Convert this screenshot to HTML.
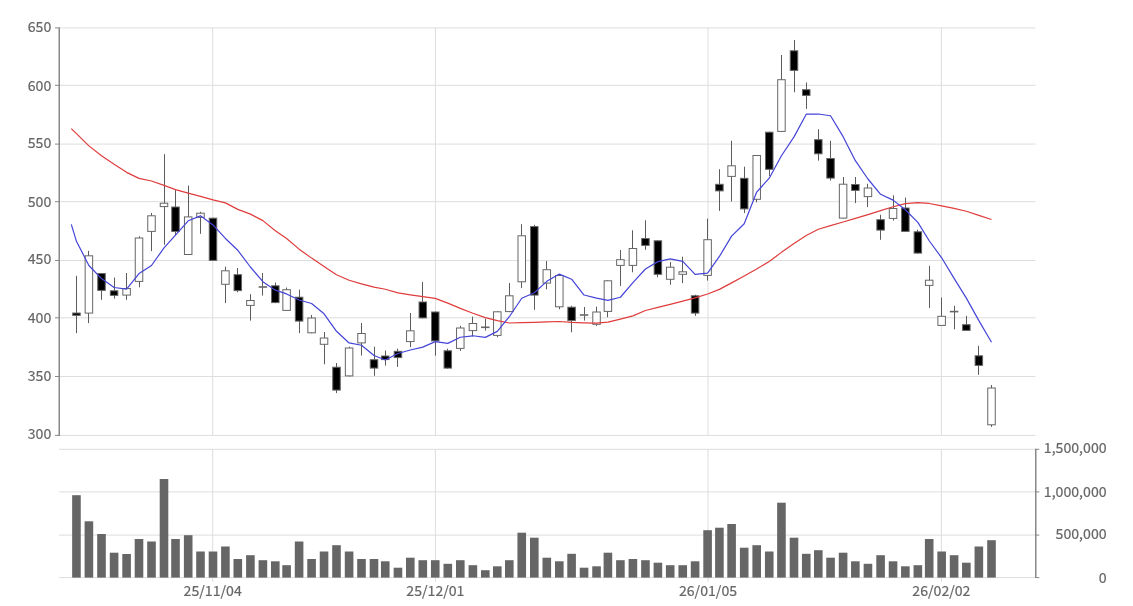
<!DOCTYPE html><html><head><meta charset="utf-8"><style>html,body{margin:0;padding:0;background:#fff;overflow:hidden}svg{display:block}</style></head><body><div style="will-change:transform"><svg width="1133" height="606" viewBox="0 0 1133 606">
<rect width="100%" height="100%" fill="#fff"/>
<line x1="59" y1="27.90" x2="1035.5" y2="27.90" stroke="#dddddd" stroke-width="1"/>
<line x1="59" y1="85.30" x2="1035.5" y2="85.30" stroke="#dddddd" stroke-width="1"/>
<line x1="59" y1="144.10" x2="1035.5" y2="144.10" stroke="#dddddd" stroke-width="1"/>
<line x1="59" y1="201.70" x2="1035.5" y2="201.70" stroke="#dddddd" stroke-width="1"/>
<line x1="59" y1="260.50" x2="1035.5" y2="260.50" stroke="#dddddd" stroke-width="1"/>
<line x1="59" y1="317.80" x2="1035.5" y2="317.80" stroke="#dddddd" stroke-width="1"/>
<line x1="59" y1="376.50" x2="1035.5" y2="376.50" stroke="#dddddd" stroke-width="1"/>
<line x1="59" y1="435.40" x2="1035.5" y2="435.40" stroke="#dddddd" stroke-width="1"/>
<line x1="59" y1="449.30" x2="1035.5" y2="449.30" stroke="#dddddd" stroke-width="1"/>
<line x1="59" y1="491.90" x2="1035.5" y2="491.90" stroke="#dddddd" stroke-width="1"/>
<line x1="59" y1="535.10" x2="1035.5" y2="535.10" stroke="#dddddd" stroke-width="1"/>
<line x1="59" y1="577.60" x2="1035.5" y2="577.60" stroke="#dddddd" stroke-width="1"/>
<line x1="212.70" y1="27.9" x2="212.70" y2="435.4" stroke="#dddddd" stroke-width="1"/>
<line x1="212.70" y1="449.3" x2="212.70" y2="582.1" stroke="#dddddd" stroke-width="1"/>
<line x1="435.40" y1="27.9" x2="435.40" y2="435.4" stroke="#dddddd" stroke-width="1"/>
<line x1="435.40" y1="449.3" x2="435.40" y2="582.1" stroke="#dddddd" stroke-width="1"/>
<line x1="708.00" y1="27.9" x2="708.00" y2="435.4" stroke="#dddddd" stroke-width="1"/>
<line x1="708.00" y1="449.3" x2="708.00" y2="582.1" stroke="#dddddd" stroke-width="1"/>
<line x1="941.40" y1="27.9" x2="941.40" y2="435.4" stroke="#dddddd" stroke-width="1"/>
<line x1="941.40" y1="449.3" x2="941.40" y2="582.1" stroke="#dddddd" stroke-width="1"/>
<line x1="59.25" y1="27.4" x2="59.25" y2="435.9" stroke="#888" stroke-width="1.5"/>
<line x1="55" y1="27.90" x2="59.25" y2="27.90" stroke="#888" stroke-width="1"/>
<line x1="55" y1="85.30" x2="59.25" y2="85.30" stroke="#888" stroke-width="1"/>
<line x1="55" y1="144.10" x2="59.25" y2="144.10" stroke="#888" stroke-width="1"/>
<line x1="55" y1="201.70" x2="59.25" y2="201.70" stroke="#888" stroke-width="1"/>
<line x1="55" y1="260.50" x2="59.25" y2="260.50" stroke="#888" stroke-width="1"/>
<line x1="55" y1="317.80" x2="59.25" y2="317.80" stroke="#888" stroke-width="1"/>
<line x1="55" y1="376.50" x2="59.25" y2="376.50" stroke="#888" stroke-width="1"/>
<line x1="55" y1="435.40" x2="59.25" y2="435.40" stroke="#888" stroke-width="1"/>
<line x1="1035.75" y1="448.8" x2="1035.75" y2="578.1" stroke="#888" stroke-width="1.5"/>
<line x1="1035.75" y1="449.30" x2="1039.35" y2="449.30" stroke="#888" stroke-width="1"/>
<line x1="1035.75" y1="491.90" x2="1039.35" y2="491.90" stroke="#888" stroke-width="1"/>
<line x1="1035.75" y1="535.10" x2="1039.35" y2="535.10" stroke="#888" stroke-width="1"/>
<line x1="1035.75" y1="577.60" x2="1039.35" y2="577.60" stroke="#888" stroke-width="1"/>
<text x="51.3" y="31.80" text-anchor="end" font-family="Noto Sans CJK JP, Liberation Sans, sans-serif" font-size="14.15" fill="#666" stroke="#666" stroke-width="0.2">650</text>
<text x="51.3" y="91.10" text-anchor="end" font-family="Noto Sans CJK JP, Liberation Sans, sans-serif" font-size="14.15" fill="#666" stroke="#666" stroke-width="0.2">600</text>
<text x="51.3" y="147.90" text-anchor="end" font-family="Noto Sans CJK JP, Liberation Sans, sans-serif" font-size="14.15" fill="#666" stroke="#666" stroke-width="0.2">550</text>
<text x="51.3" y="207.10" text-anchor="end" font-family="Noto Sans CJK JP, Liberation Sans, sans-serif" font-size="14.15" fill="#666" stroke="#666" stroke-width="0.2">500</text>
<text x="51.3" y="263.90" text-anchor="end" font-family="Noto Sans CJK JP, Liberation Sans, sans-serif" font-size="14.15" fill="#666" stroke="#666" stroke-width="0.2">450</text>
<text x="51.3" y="322.90" text-anchor="end" font-family="Noto Sans CJK JP, Liberation Sans, sans-serif" font-size="14.15" fill="#666" stroke="#666" stroke-width="0.2">400</text>
<text x="51.3" y="381.10" text-anchor="end" font-family="Noto Sans CJK JP, Liberation Sans, sans-serif" font-size="14.15" fill="#666" stroke="#666" stroke-width="0.2">350</text>
<text x="51.3" y="439.10" text-anchor="end" font-family="Noto Sans CJK JP, Liberation Sans, sans-serif" font-size="14.15" fill="#666" stroke="#666" stroke-width="0.2">300</text>
<text x="1106.6" y="453.20" text-anchor="end" font-family="Noto Sans CJK JP, Liberation Sans, sans-serif" font-size="14.15" fill="#666" stroke="#666" stroke-width="0.2">1,500,000</text>
<text x="1106.6" y="497.20" text-anchor="end" font-family="Noto Sans CJK JP, Liberation Sans, sans-serif" font-size="14.15" fill="#666" stroke="#666" stroke-width="0.2">1,000,000</text>
<text x="1106.6" y="539.00" text-anchor="end" font-family="Noto Sans CJK JP, Liberation Sans, sans-serif" font-size="14.15" fill="#666" stroke="#666" stroke-width="0.2">500,000</text>
<text x="1106.6" y="582.90" text-anchor="end" font-family="Noto Sans CJK JP, Liberation Sans, sans-serif" font-size="14.15" fill="#666" stroke="#666" stroke-width="0.2">0</text>
<text x="212.70" y="596.2" text-anchor="middle" font-family="Noto Sans CJK JP, Liberation Sans, sans-serif" font-size="14.15" fill="#666" stroke="#666" stroke-width="0.2">25/11/04</text>
<text x="435.40" y="596.2" text-anchor="middle" font-family="Noto Sans CJK JP, Liberation Sans, sans-serif" font-size="14.15" fill="#666" stroke="#666" stroke-width="0.2">25/12/01</text>
<text x="708.00" y="596.2" text-anchor="middle" font-family="Noto Sans CJK JP, Liberation Sans, sans-serif" font-size="14.15" fill="#666" stroke="#666" stroke-width="0.2">26/01/05</text>
<text x="941.40" y="596.2" text-anchor="middle" font-family="Noto Sans CJK JP, Liberation Sans, sans-serif" font-size="14.15" fill="#666" stroke="#666" stroke-width="0.2">26/02/02</text>
<rect x="72.15" y="495.20" width="8.6" height="82.40" fill="#666"/>
<rect x="84.60" y="521.30" width="8.6" height="56.30" fill="#666"/>
<rect x="97.20" y="534.00" width="8.6" height="43.60" fill="#666"/>
<rect x="109.80" y="552.70" width="8.6" height="24.90" fill="#666"/>
<rect x="122.30" y="554.00" width="8.6" height="23.60" fill="#666"/>
<rect x="134.70" y="539.00" width="8.6" height="38.60" fill="#666"/>
<rect x="147.20" y="541.50" width="8.6" height="36.10" fill="#666"/>
<rect x="159.70" y="479.00" width="8.6" height="98.60" fill="#666"/>
<rect x="171.20" y="539.00" width="8.6" height="38.60" fill="#666"/>
<rect x="183.90" y="535.20" width="8.6" height="42.40" fill="#666"/>
<rect x="196.20" y="551.50" width="8.6" height="26.10" fill="#666"/>
<rect x="208.70" y="551.50" width="8.6" height="26.10" fill="#666"/>
<rect x="221.10" y="546.50" width="8.6" height="31.10" fill="#666"/>
<rect x="233.50" y="559.00" width="8.6" height="18.60" fill="#666"/>
<rect x="246.10" y="555.20" width="8.6" height="22.40" fill="#666"/>
<rect x="258.60" y="560.20" width="8.6" height="17.40" fill="#666"/>
<rect x="271.00" y="561.30" width="8.6" height="16.30" fill="#666"/>
<rect x="282.30" y="565.20" width="8.6" height="12.40" fill="#666"/>
<rect x="294.80" y="541.50" width="8.6" height="36.10" fill="#666"/>
<rect x="307.30" y="559.00" width="8.6" height="18.60" fill="#666"/>
<rect x="319.75" y="551.50" width="8.6" height="26.10" fill="#666"/>
<rect x="332.20" y="545.20" width="8.6" height="32.40" fill="#666"/>
<rect x="344.80" y="551.50" width="8.6" height="26.10" fill="#666"/>
<rect x="357.20" y="559.00" width="8.6" height="18.60" fill="#666"/>
<rect x="369.70" y="559.00" width="8.6" height="18.60" fill="#666"/>
<rect x="380.95" y="561.30" width="8.6" height="16.30" fill="#666"/>
<rect x="393.65" y="567.70" width="8.6" height="9.90" fill="#666"/>
<rect x="406.00" y="557.70" width="8.6" height="19.90" fill="#666"/>
<rect x="418.50" y="560.20" width="8.6" height="17.40" fill="#666"/>
<rect x="430.95" y="560.20" width="8.6" height="17.40" fill="#666"/>
<rect x="443.50" y="563.80" width="8.6" height="13.80" fill="#666"/>
<rect x="456.00" y="560.20" width="8.6" height="17.40" fill="#666"/>
<rect x="468.60" y="565.20" width="8.6" height="12.40" fill="#666"/>
<rect x="481.00" y="570.20" width="8.6" height="7.40" fill="#666"/>
<rect x="493.00" y="566.30" width="8.6" height="11.30" fill="#666"/>
<rect x="505.00" y="560.20" width="8.6" height="17.40" fill="#666"/>
<rect x="517.45" y="532.70" width="8.6" height="44.90" fill="#666"/>
<rect x="530.00" y="537.70" width="8.6" height="39.90" fill="#666"/>
<rect x="542.50" y="557.70" width="8.6" height="19.90" fill="#666"/>
<rect x="555.00" y="561.30" width="8.6" height="16.30" fill="#666"/>
<rect x="567.30" y="553.80" width="8.6" height="23.80" fill="#666"/>
<rect x="579.75" y="567.70" width="8.6" height="9.90" fill="#666"/>
<rect x="592.25" y="566.30" width="8.6" height="11.30" fill="#666"/>
<rect x="603.60" y="552.70" width="8.6" height="24.90" fill="#666"/>
<rect x="616.10" y="560.20" width="8.6" height="17.40" fill="#666"/>
<rect x="628.60" y="559.00" width="8.6" height="18.60" fill="#666"/>
<rect x="641.15" y="560.20" width="8.6" height="17.40" fill="#666"/>
<rect x="653.60" y="562.70" width="8.6" height="14.90" fill="#666"/>
<rect x="665.90" y="565.20" width="8.6" height="12.40" fill="#666"/>
<rect x="678.45" y="565.20" width="8.6" height="12.40" fill="#666"/>
<rect x="690.80" y="561.30" width="8.6" height="16.30" fill="#666"/>
<rect x="703.30" y="530.20" width="8.6" height="47.40" fill="#666"/>
<rect x="715.10" y="527.70" width="8.6" height="49.90" fill="#666"/>
<rect x="727.30" y="524.00" width="8.6" height="53.60" fill="#666"/>
<rect x="739.90" y="547.70" width="8.6" height="29.90" fill="#666"/>
<rect x="752.40" y="545.20" width="8.6" height="32.40" fill="#666"/>
<rect x="764.95" y="551.50" width="8.6" height="26.10" fill="#666"/>
<rect x="777.15" y="502.70" width="8.6" height="74.90" fill="#666"/>
<rect x="789.70" y="537.70" width="8.6" height="39.90" fill="#666"/>
<rect x="801.95" y="553.80" width="8.6" height="23.80" fill="#666"/>
<rect x="814.00" y="550.20" width="8.6" height="27.40" fill="#666"/>
<rect x="826.25" y="557.70" width="8.6" height="19.90" fill="#666"/>
<rect x="838.80" y="552.70" width="8.6" height="24.90" fill="#666"/>
<rect x="851.05" y="561.30" width="8.6" height="16.30" fill="#666"/>
<rect x="863.65" y="563.80" width="8.6" height="13.80" fill="#666"/>
<rect x="876.30" y="555.20" width="8.6" height="22.40" fill="#666"/>
<rect x="888.75" y="561.30" width="8.6" height="16.30" fill="#666"/>
<rect x="901.05" y="566.30" width="8.6" height="11.30" fill="#666"/>
<rect x="913.55" y="565.20" width="8.6" height="12.40" fill="#666"/>
<rect x="924.90" y="539.00" width="8.6" height="38.60" fill="#666"/>
<rect x="937.35" y="551.50" width="8.6" height="26.10" fill="#666"/>
<rect x="949.80" y="555.20" width="8.6" height="22.40" fill="#666"/>
<rect x="962.05" y="562.70" width="8.6" height="14.90" fill="#666"/>
<rect x="974.55" y="546.50" width="8.6" height="31.10" fill="#666"/>
<rect x="987.20" y="540.20" width="8.6" height="37.40" fill="#666"/>
<line x1="76.50" y1="275.80" x2="76.50" y2="333.10" stroke="#5c5c5c" stroke-width="1"/>
<rect x="72.70" y="313.00" width="7.5" height="2.40" fill="#000" stroke="#666" stroke-width="1"/>
<line x1="88.50" y1="250.80" x2="88.50" y2="323.10" stroke="#5c5c5c" stroke-width="1"/>
<rect x="85.15" y="255.80" width="7.5" height="57.30" fill="#fff" stroke="#666" stroke-width="1"/>
<line x1="101.50" y1="273.00" x2="101.50" y2="299.80" stroke="#5c5c5c" stroke-width="1"/>
<rect x="97.75" y="273.50" width="7.5" height="16.90" fill="#000" stroke="#666" stroke-width="1"/>
<line x1="114.50" y1="277.50" x2="114.50" y2="298.60" stroke="#5c5c5c" stroke-width="1"/>
<rect x="110.35" y="290.80" width="7.5" height="4.60" fill="#000" stroke="#666" stroke-width="1"/>
<line x1="126.50" y1="273.00" x2="126.50" y2="299.80" stroke="#5c5c5c" stroke-width="1"/>
<rect x="122.85" y="288.50" width="7.5" height="6.60" fill="#fff" stroke="#666" stroke-width="1"/>
<line x1="139.50" y1="236.30" x2="139.50" y2="287.30" stroke="#5c5c5c" stroke-width="1"/>
<rect x="135.25" y="238.00" width="7.5" height="43.40" fill="#fff" stroke="#666" stroke-width="1"/>
<line x1="151.50" y1="213.00" x2="151.50" y2="251.10" stroke="#5c5c5c" stroke-width="1"/>
<rect x="147.75" y="215.80" width="7.5" height="15.60" fill="#fff" stroke="#666" stroke-width="1"/>
<line x1="164.50" y1="154.20" x2="164.50" y2="244.70" stroke="#5c5c5c" stroke-width="1"/>
<rect x="160.25" y="203.20" width="7.5" height="3.40" fill="#fff" stroke="#666" stroke-width="1"/>
<line x1="175.50" y1="190.00" x2="175.50" y2="235.60" stroke="#5c5c5c" stroke-width="1"/>
<rect x="171.75" y="207.00" width="7.5" height="24.50" fill="#000" stroke="#666" stroke-width="1"/>
<line x1="188.50" y1="185.50" x2="188.50" y2="255.00" stroke="#5c5c5c" stroke-width="1"/>
<rect x="184.45" y="216.90" width="7.5" height="37.60" fill="#fff" stroke="#666" stroke-width="1"/>
<line x1="200.50" y1="211.80" x2="200.50" y2="233.80" stroke="#5c5c5c" stroke-width="1"/>
<rect x="196.75" y="213.20" width="7.5" height="4.20" fill="#fff" stroke="#666" stroke-width="1"/>
<line x1="213.50" y1="217.70" x2="213.50" y2="260.90" stroke="#5c5c5c" stroke-width="1"/>
<rect x="209.25" y="218.20" width="7.5" height="42.20" fill="#000" stroke="#666" stroke-width="1"/>
<line x1="225.50" y1="266.70" x2="225.50" y2="303.10" stroke="#5c5c5c" stroke-width="1"/>
<rect x="221.65" y="270.80" width="7.5" height="13.50" fill="#fff" stroke="#666" stroke-width="1"/>
<line x1="237.50" y1="268.00" x2="237.50" y2="292.30" stroke="#5c5c5c" stroke-width="1"/>
<rect x="234.05" y="274.70" width="7.5" height="15.90" fill="#000" stroke="#666" stroke-width="1"/>
<line x1="250.50" y1="294.20" x2="250.50" y2="320.60" stroke="#5c5c5c" stroke-width="1"/>
<rect x="246.65" y="300.50" width="7.5" height="4.90" fill="#fff" stroke="#666" stroke-width="1"/>
<line x1="262.50" y1="273.00" x2="262.50" y2="295.60" stroke="#5c5c5c" stroke-width="1"/>
<rect x="259.15" y="286.70" width="7.5" height="0.60" fill="#fff" stroke="#666" stroke-width="1"/>
<line x1="275.50" y1="282.50" x2="275.50" y2="303.10" stroke="#5c5c5c" stroke-width="1"/>
<rect x="271.55" y="285.80" width="7.5" height="16.80" fill="#000" stroke="#666" stroke-width="1"/>
<line x1="286.50" y1="287.50" x2="286.50" y2="310.90" stroke="#5c5c5c" stroke-width="1"/>
<rect x="282.85" y="289.70" width="7.5" height="20.70" fill="#fff" stroke="#666" stroke-width="1"/>
<line x1="299.50" y1="289.70" x2="299.50" y2="333.10" stroke="#5c5c5c" stroke-width="1"/>
<rect x="295.35" y="297.20" width="7.5" height="23.90" fill="#000" stroke="#666" stroke-width="1"/>
<line x1="311.50" y1="315.00" x2="311.50" y2="333.30" stroke="#5c5c5c" stroke-width="1"/>
<rect x="307.85" y="318.00" width="7.5" height="14.80" fill="#fff" stroke="#666" stroke-width="1"/>
<line x1="324.50" y1="332.00" x2="324.50" y2="364.30" stroke="#5c5c5c" stroke-width="1"/>
<rect x="320.30" y="338.00" width="7.5" height="6.30" fill="#fff" stroke="#666" stroke-width="1"/>
<line x1="336.50" y1="363.00" x2="336.50" y2="393.10" stroke="#5c5c5c" stroke-width="1"/>
<rect x="332.75" y="367.20" width="7.5" height="22.90" fill="#000" stroke="#666" stroke-width="1"/>
<line x1="349.50" y1="346.70" x2="349.50" y2="376.40" stroke="#5c5c5c" stroke-width="1"/>
<rect x="345.35" y="348.00" width="7.5" height="27.90" fill="#fff" stroke="#666" stroke-width="1"/>
<line x1="361.50" y1="323.00" x2="361.50" y2="355.60" stroke="#5c5c5c" stroke-width="1"/>
<rect x="357.75" y="333.50" width="7.5" height="9.40" fill="#fff" stroke="#666" stroke-width="1"/>
<line x1="374.50" y1="346.70" x2="374.50" y2="375.90" stroke="#5c5c5c" stroke-width="1"/>
<rect x="370.25" y="359.70" width="7.5" height="8.40" fill="#000" stroke="#666" stroke-width="1"/>
<line x1="385.50" y1="350.50" x2="385.50" y2="365.60" stroke="#5c5c5c" stroke-width="1"/>
<rect x="381.50" y="356.00" width="7.5" height="3.60" fill="#000" stroke="#666" stroke-width="1"/>
<line x1="397.50" y1="348.70" x2="397.50" y2="366.90" stroke="#5c5c5c" stroke-width="1"/>
<rect x="394.20" y="351.30" width="7.5" height="6.30" fill="#000" stroke="#666" stroke-width="1"/>
<line x1="410.50" y1="313.00" x2="410.50" y2="347.10" stroke="#5c5c5c" stroke-width="1"/>
<rect x="406.55" y="330.80" width="7.5" height="10.80" fill="#fff" stroke="#666" stroke-width="1"/>
<line x1="422.50" y1="282.00" x2="422.50" y2="318.40" stroke="#5c5c5c" stroke-width="1"/>
<rect x="419.05" y="302.00" width="7.5" height="15.90" fill="#000" stroke="#666" stroke-width="1"/>
<line x1="435.50" y1="311.50" x2="435.50" y2="355.60" stroke="#5c5c5c" stroke-width="1"/>
<rect x="431.50" y="312.00" width="7.5" height="28.90" fill="#000" stroke="#666" stroke-width="1"/>
<line x1="447.50" y1="348.70" x2="447.50" y2="368.60" stroke="#5c5c5c" stroke-width="1"/>
<rect x="444.05" y="350.80" width="7.5" height="17.30" fill="#000" stroke="#666" stroke-width="1"/>
<line x1="460.50" y1="325.80" x2="460.50" y2="350.90" stroke="#5c5c5c" stroke-width="1"/>
<rect x="456.55" y="328.00" width="7.5" height="20.40" fill="#fff" stroke="#666" stroke-width="1"/>
<line x1="472.50" y1="316.70" x2="472.50" y2="336.40" stroke="#5c5c5c" stroke-width="1"/>
<rect x="469.15" y="323.50" width="7.5" height="7.10" fill="#fff" stroke="#666" stroke-width="1"/>
<line x1="485.50" y1="318.70" x2="485.50" y2="330.60" stroke="#5c5c5c" stroke-width="1"/>
<rect x="481.55" y="327.00" width="7.5" height="0.60" fill="#fff" stroke="#666" stroke-width="1"/>
<line x1="497.50" y1="311.30" x2="497.50" y2="337.30" stroke="#5c5c5c" stroke-width="1"/>
<rect x="493.55" y="311.80" width="7.5" height="23.60" fill="#fff" stroke="#666" stroke-width="1"/>
<line x1="509.50" y1="283.00" x2="509.50" y2="312.10" stroke="#5c5c5c" stroke-width="1"/>
<rect x="505.55" y="295.80" width="7.5" height="15.80" fill="#fff" stroke="#666" stroke-width="1"/>
<line x1="521.50" y1="224.20" x2="521.50" y2="288.10" stroke="#5c5c5c" stroke-width="1"/>
<rect x="518.00" y="235.80" width="7.5" height="46.00" fill="#fff" stroke="#666" stroke-width="1"/>
<line x1="534.50" y1="224.80" x2="534.50" y2="309.80" stroke="#5c5c5c" stroke-width="1"/>
<rect x="530.55" y="226.60" width="7.5" height="68.50" fill="#000" stroke="#666" stroke-width="1"/>
<line x1="546.50" y1="261.00" x2="546.50" y2="289.30" stroke="#5c5c5c" stroke-width="1"/>
<rect x="543.05" y="269.70" width="7.5" height="13.40" fill="#fff" stroke="#666" stroke-width="1"/>
<line x1="559.50" y1="274.00" x2="559.50" y2="309.30" stroke="#5c5c5c" stroke-width="1"/>
<rect x="555.55" y="275.50" width="7.5" height="31.30" fill="#fff" stroke="#666" stroke-width="1"/>
<line x1="571.50" y1="305.80" x2="571.50" y2="332.30" stroke="#5c5c5c" stroke-width="1"/>
<rect x="567.85" y="307.20" width="7.5" height="13.40" fill="#000" stroke="#666" stroke-width="1"/>
<line x1="584.50" y1="307.00" x2="584.50" y2="320.60" stroke="#5c5c5c" stroke-width="1"/>
<rect x="580.30" y="314.70" width="7.5" height="0.60" fill="#fff" stroke="#666" stroke-width="1"/>
<line x1="596.50" y1="306.70" x2="596.50" y2="325.90" stroke="#5c5c5c" stroke-width="1"/>
<rect x="592.80" y="312.00" width="7.5" height="12.30" fill="#fff" stroke="#666" stroke-width="1"/>
<line x1="607.50" y1="280.30" x2="607.50" y2="317.30" stroke="#5c5c5c" stroke-width="1"/>
<rect x="604.15" y="280.80" width="7.5" height="30.60" fill="#fff" stroke="#666" stroke-width="1"/>
<line x1="620.50" y1="250.00" x2="620.50" y2="285.90" stroke="#5c5c5c" stroke-width="1"/>
<rect x="616.65" y="259.70" width="7.5" height="5.70" fill="#fff" stroke="#666" stroke-width="1"/>
<line x1="632.50" y1="230.30" x2="632.50" y2="272.30" stroke="#5c5c5c" stroke-width="1"/>
<rect x="629.15" y="248.50" width="7.5" height="16.90" fill="#fff" stroke="#666" stroke-width="1"/>
<line x1="645.50" y1="220.30" x2="645.50" y2="249.80" stroke="#5c5c5c" stroke-width="1"/>
<rect x="641.70" y="238.50" width="7.5" height="6.90" fill="#000" stroke="#666" stroke-width="1"/>
<line x1="657.50" y1="240.30" x2="657.50" y2="277.30" stroke="#5c5c5c" stroke-width="1"/>
<rect x="654.15" y="240.80" width="7.5" height="33.50" fill="#000" stroke="#666" stroke-width="1"/>
<line x1="670.50" y1="262.00" x2="670.50" y2="284.80" stroke="#5c5c5c" stroke-width="1"/>
<rect x="666.45" y="267.20" width="7.5" height="12.10" fill="#fff" stroke="#666" stroke-width="1"/>
<line x1="682.50" y1="256.70" x2="682.50" y2="283.10" stroke="#5c5c5c" stroke-width="1"/>
<rect x="679.00" y="271.80" width="7.5" height="2.50" fill="#fff" stroke="#666" stroke-width="1"/>
<line x1="695.50" y1="294.70" x2="695.50" y2="315.90" stroke="#5c5c5c" stroke-width="1"/>
<rect x="691.35" y="295.80" width="7.5" height="17.30" fill="#000" stroke="#666" stroke-width="1"/>
<line x1="707.50" y1="218.70" x2="707.50" y2="280.60" stroke="#5c5c5c" stroke-width="1"/>
<rect x="703.85" y="239.70" width="7.5" height="35.70" fill="#fff" stroke="#666" stroke-width="1"/>
<line x1="719.50" y1="169.20" x2="719.50" y2="210.90" stroke="#5c5c5c" stroke-width="1"/>
<rect x="715.65" y="184.30" width="7.5" height="6.60" fill="#000" stroke="#666" stroke-width="1"/>
<line x1="731.50" y1="140.80" x2="731.50" y2="201.40" stroke="#5c5c5c" stroke-width="1"/>
<rect x="727.85" y="165.80" width="7.5" height="10.60" fill="#fff" stroke="#666" stroke-width="1"/>
<line x1="744.50" y1="166.70" x2="744.50" y2="213.10" stroke="#5c5c5c" stroke-width="1"/>
<rect x="740.45" y="178.30" width="7.5" height="30.60" fill="#000" stroke="#666" stroke-width="1"/>
<line x1="756.50" y1="155.00" x2="756.50" y2="202.30" stroke="#5c5c5c" stroke-width="1"/>
<rect x="752.95" y="155.50" width="7.5" height="43.80" fill="#fff" stroke="#666" stroke-width="1"/>
<line x1="769.50" y1="131.70" x2="769.50" y2="175.90" stroke="#5c5c5c" stroke-width="1"/>
<rect x="765.50" y="132.20" width="7.5" height="37.10" fill="#000" stroke="#666" stroke-width="1"/>
<line x1="781.50" y1="55.00" x2="781.50" y2="131.90" stroke="#5c5c5c" stroke-width="1"/>
<rect x="777.70" y="79.70" width="7.5" height="51.70" fill="#fff" stroke="#666" stroke-width="1"/>
<line x1="794.50" y1="40.00" x2="794.50" y2="92.30" stroke="#5c5c5c" stroke-width="1"/>
<rect x="790.25" y="50.80" width="7.5" height="19.60" fill="#000" stroke="#666" stroke-width="1"/>
<line x1="806.50" y1="82.50" x2="806.50" y2="108.90" stroke="#5c5c5c" stroke-width="1"/>
<rect x="802.50" y="89.70" width="7.5" height="5.70" fill="#000" stroke="#666" stroke-width="1"/>
<line x1="818.50" y1="129.20" x2="818.50" y2="160.60" stroke="#5c5c5c" stroke-width="1"/>
<rect x="814.55" y="139.70" width="7.5" height="14.10" fill="#000" stroke="#666" stroke-width="1"/>
<line x1="830.50" y1="140.80" x2="830.50" y2="180.60" stroke="#5c5c5c" stroke-width="1"/>
<rect x="826.80" y="158.50" width="7.5" height="19.60" fill="#000" stroke="#666" stroke-width="1"/>
<line x1="843.50" y1="177.00" x2="843.50" y2="218.60" stroke="#5c5c5c" stroke-width="1"/>
<rect x="839.35" y="184.20" width="7.5" height="33.90" fill="#fff" stroke="#666" stroke-width="1"/>
<line x1="855.50" y1="177.00" x2="855.50" y2="203.10" stroke="#5c5c5c" stroke-width="1"/>
<rect x="851.60" y="184.50" width="7.5" height="5.90" fill="#000" stroke="#666" stroke-width="1"/>
<line x1="867.50" y1="183.70" x2="867.50" y2="207.10" stroke="#5c5c5c" stroke-width="1"/>
<rect x="864.20" y="188.00" width="7.5" height="8.60" fill="#fff" stroke="#666" stroke-width="1"/>
<line x1="880.50" y1="214.70" x2="880.50" y2="239.80" stroke="#5c5c5c" stroke-width="1"/>
<rect x="876.85" y="219.70" width="7.5" height="10.40" fill="#000" stroke="#666" stroke-width="1"/>
<line x1="893.50" y1="195.30" x2="893.50" y2="220.60" stroke="#5c5c5c" stroke-width="1"/>
<rect x="889.30" y="208.50" width="7.5" height="9.90" fill="#fff" stroke="#666" stroke-width="1"/>
<line x1="905.50" y1="197.50" x2="905.50" y2="231.90" stroke="#5c5c5c" stroke-width="1"/>
<rect x="901.60" y="208.00" width="7.5" height="23.40" fill="#000" stroke="#666" stroke-width="1"/>
<line x1="917.50" y1="229.70" x2="917.50" y2="253.60" stroke="#5c5c5c" stroke-width="1"/>
<rect x="914.10" y="231.80" width="7.5" height="21.30" fill="#000" stroke="#666" stroke-width="1"/>
<line x1="929.50" y1="265.80" x2="929.50" y2="308.10" stroke="#5c5c5c" stroke-width="1"/>
<rect x="925.45" y="280.20" width="7.5" height="5.20" fill="#fff" stroke="#666" stroke-width="1"/>
<line x1="941.50" y1="297.50" x2="941.50" y2="325.90" stroke="#5c5c5c" stroke-width="1"/>
<rect x="937.90" y="316.30" width="7.5" height="9.10" fill="#fff" stroke="#666" stroke-width="1"/>
<line x1="954.50" y1="305.80" x2="954.50" y2="329.30" stroke="#5c5c5c" stroke-width="1"/>
<rect x="950.35" y="311.30" width="7.5" height="0.60" fill="#fff" stroke="#666" stroke-width="1"/>
<line x1="966.50" y1="315.80" x2="966.50" y2="330.90" stroke="#5c5c5c" stroke-width="1"/>
<rect x="962.60" y="324.70" width="7.5" height="5.70" fill="#000" stroke="#666" stroke-width="1"/>
<line x1="978.50" y1="345.80" x2="978.50" y2="374.80" stroke="#5c5c5c" stroke-width="1"/>
<rect x="975.10" y="355.80" width="7.5" height="9.60" fill="#000" stroke="#666" stroke-width="1"/>
<line x1="991.50" y1="385.00" x2="991.50" y2="426.90" stroke="#5c5c5c" stroke-width="1"/>
<rect x="987.75" y="388.00" width="7.5" height="36.80" fill="#fff" stroke="#666" stroke-width="1"/>
<polyline points="71.30,128.60 76.45,133.65 88.90,145.86 101.50,155.77 114.10,164.34 126.60,172.34 139.00,178.35 151.50,180.98 164.00,185.35 175.50,189.61 188.20,193.18 200.50,196.31 213.00,199.83 225.40,202.88 237.80,209.37 250.40,214.10 262.90,220.63 275.30,230.70 286.60,238.46 299.10,249.16 311.60,258.12 324.05,266.53 336.50,274.80 349.10,280.23 361.50,283.92 374.00,287.08 385.25,289.26 397.95,292.94 410.30,294.83 422.80,296.57 435.25,298.40 447.80,303.16 460.30,308.40 472.90,313.29 485.30,317.60 497.30,320.60 509.30,322.98 521.75,322.71 534.30,322.38 546.80,321.78 559.30,321.49 571.60,322.38 584.05,322.79 596.55,323.13 607.90,322.12 620.40,319.06 632.90,315.90 645.45,310.54 657.90,307.37 670.20,304.37 682.75,301.05 695.10,297.92 707.60,294.01 719.40,289.36 731.60,282.87 744.20,276.09 756.70,269.03 769.25,261.41 781.45,252.36 794.00,243.54 806.25,235.45 818.30,229.30 830.55,225.64 843.10,222.00 855.35,218.40 867.95,214.61 880.60,210.62 893.05,206.78 905.35,203.66 917.85,202.58 929.20,203.47 941.65,205.79 954.10,208.46 966.35,211.25 978.85,215.38 991.50,219.50" fill="none" stroke="#e03c3c" stroke-width="1.2" stroke-linejoin="round"/>
<polyline points="71.30,224.40 76.45,241.30 88.90,265.50 101.50,278.60 114.10,287.50 126.60,289.20 139.00,273.52 151.50,265.52 164.00,247.88 175.50,235.10 188.20,220.78 200.50,215.82 213.00,224.94 225.40,238.46 237.80,250.28 250.40,267.00 262.90,281.70 275.30,290.14 286.60,293.92 299.10,300.02 311.60,303.52 324.05,313.78 336.50,331.28 349.10,342.94 361.50,345.22 374.00,355.44 385.25,359.96 397.95,353.46 410.30,350.02 422.80,347.10 435.25,341.66 447.80,343.36 460.30,337.24 472.90,335.78 485.30,337.40 497.30,331.38 509.30,316.72 521.75,298.28 534.30,292.80 546.80,281.34 559.30,274.08 571.60,279.24 584.05,295.02 596.55,298.20 607.90,300.42 620.40,297.26 632.90,282.64 645.45,268.98 657.90,261.64 670.20,258.92 682.75,261.34 695.10,274.46 707.60,273.12 719.40,256.44 731.60,236.16 744.20,223.78 756.70,192.06 769.25,178.18 781.45,155.74 794.00,136.86 806.25,114.16 818.30,114.02 830.55,115.78 843.10,136.68 855.35,160.68 867.95,179.00 880.60,194.26 893.05,200.14 905.35,209.78 917.85,222.32 929.20,240.76 941.65,257.80 954.10,278.36 966.35,298.16 978.85,320.62 991.50,342.18" fill="none" stroke="#4444d8" stroke-width="1.2" stroke-linejoin="round"/>
</svg></div></body></html>
